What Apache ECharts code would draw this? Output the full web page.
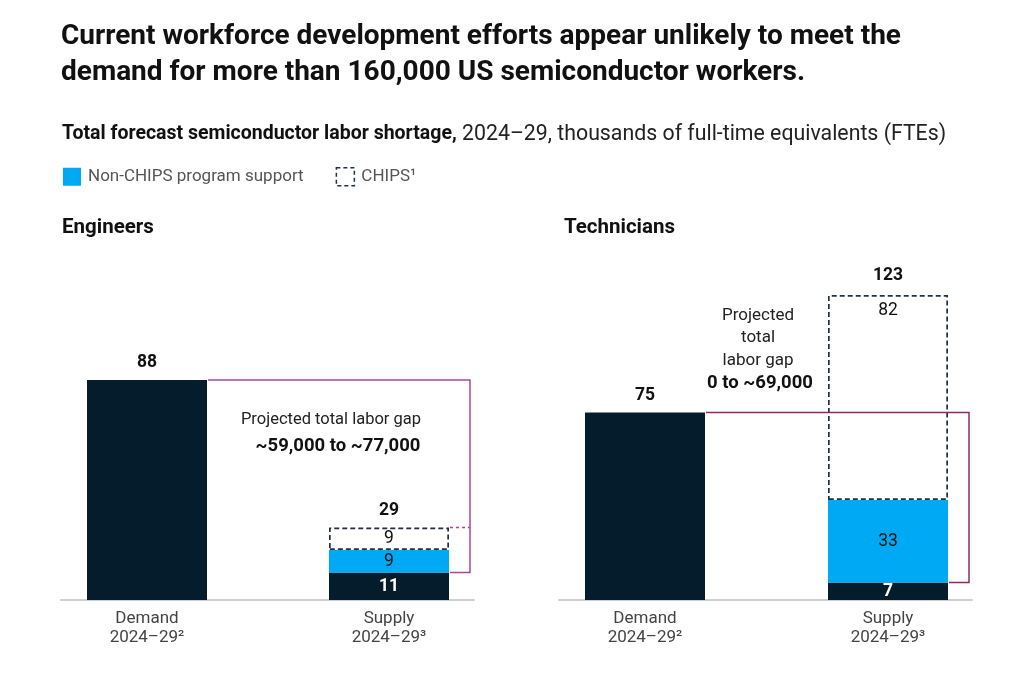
<!DOCTYPE html>
<html><head><meta charset="utf-8">
<script src="https://cdn.jsdelivr.net/npm/echarts@6/dist/echarts.min.js"></script>
<style>html,body{margin:0;padding:0;background:#fff}#c{width:1024px;height:674px}</style>
</head><body><div id="c"></div>
<script>
// ---- data (thousands of FTEs) ----
const categories = ['Demand\n2024–29²', 'Supply\n2024–29³'];
const panelTitles = ['Engineers', 'Technicians'];
const engBase = [88, 11];        // demand, supply base
const engNonChips = [null, 9];
const engChips = [null, 9];
const engTotals = [88, 29];
const techBase = [75, 7];
const techNonChips = [null, 33];
const techChips = [null, 82];
const techTotals = [75, 123];
const gapTexts = [['Projected total labor gap', '~59,000 to ~77,000'], ['Projected\ntotal\nlabor gap', '0 to ~69,000']];

const DARK = '#051c2c', BLUE = '#00a9f4', FONT = 'Roboto', BORDER = '#1f3142';
const panels = [
  {base: engBase, non: engNonChips, chips: engChips, totals: engTotals, left: 26, right: 514, axLeft: 61, axRight: 550, line: '#ad4595'},
  {base: techBase, non: techNonChips, chips: techChips, totals: techTotals, left: 523.5, right: 14.5, axLeft: 559, axRight: 52, line: '#8c2b62'}
];

const grid = [], xAxis = [], yAxis = [], series = [];
const toData = arr => arr.map(v => v == null ? '-' : v);
panels.forEach((p, i) => {
  // bar grid
  grid.push({left: p.left, right: p.right, top: 250, bottom: 74});
  xAxis.push({type: 'category', gridIndex: i, data: categories,
    axisLine: {show: false}, axisTick: {show: false}, splitLine: {show: false},
    axisLabel: {color: '#444', fontFamily: FONT, fontSize: 17, lineHeight: 19, margin: 9}});
  yAxis.push({type: 'value', gridIndex: i, min: 0, max: 140, show: false});
  series.push({type: 'bar', name: 'Base', xAxisIndex: i, yAxisIndex: i, stack: 's' + i, barWidth: 120,
    itemStyle: {color: DARK},
    data: p.base.map((v, k) => ({value: v, label: {show: k === 1}})),
    label: {position: 'inside', color: '#fff', fontWeight: 'bold', fontFamily: FONT, fontSize: 17.5}});
  series.push({type: 'bar', name: 'Non-CHIPS program support', xAxisIndex: i, yAxisIndex: i, stack: 's' + i, barWidth: 120,
    itemStyle: {color: BLUE}, data: toData(p.non),
    label: {show: true, position: 'inside', color: '#111', fontFamily: FONT, fontSize: 17.5}});
  series.push({type: 'bar', name: 'CHIPS¹', xAxisIndex: i, yAxisIndex: i, stack: 's' + i, barWidth: 120, z: 3,
    itemStyle: {color: 'rgba(255,255,255,0)', borderColor: BORDER, borderWidth: 1.7, borderType: [5, 3]},
    data: toData(p.chips),
    label: {show: true, position: i === 1 ? 'insideTop' : 'inside', distance: 7, color: '#111', fontFamily: FONT, fontSize: 17.5}});
  series.push({type: 'custom', xAxisIndex: i, yAxisIndex: i, z: 5, silent: true,
    data: [[0, 1, p.totals[0], p.base[1], p.totals[1]]],
    encode: {x: [0, 1], y: [2, 3, 4]},
    renderItem: (params, api) => {
      const d = api.coord([api.value(0), api.value(2)]);
      const s = api.coord([api.value(1), api.value(3)]);
      const t = api.coord([api.value(1), api.value(4)]);
      const half = 60, rx = s[0] + 81;
      const ch = [
        {type: 'polyline', shape: {points: [[d[0] + half + 1, d[1]], [rx, d[1]], [rx, s[1]], [s[0] + half + 1, s[1]]]},
          style: {stroke: p.line, lineWidth: 1.5, fill: null}},
        {type: 'text', style: {text: String(api.value(2)), x: d[0], y: d[1] - 17, align: 'center', verticalAlign: 'middle',
          font: 'bold 17.5px ' + FONT, fill: '#111'}},
        {type: 'text', style: {text: String(api.value(4)), x: t[0], y: t[1] - 17, align: 'center', verticalAlign: 'middle',
          font: 'bold 17.5px ' + FONT, fill: '#111'}}
      ];
      if (t[1] > d[1]) ch.push({type: 'line', shape: {x1: s[0] + half + 1, y1: t[1], x2: rx, y2: t[1]},
        style: {stroke: p.line, lineWidth: 1.5, lineDash: [3, 3]}});
      return {type: 'group', children: ch};
    }});
});
// baseline axes (shorter than the bar grids)
panels.forEach((p, i) => {
  grid.push({left: p.axLeft, right: p.axRight, top: 250, bottom: 74});
  xAxis.push({type: 'category', gridIndex: 2 + i, data: [], axisLine: {show: true, lineStyle: {color: '#d0d0d0', width: 2}},
    axisTick: {show: false}, axisLabel: {show: false}, splitLine: {show: false}});
  yAxis.push({type: 'value', gridIndex: 2 + i, min: 0, max: 140, show: false});
});

const chart = echarts.init(document.getElementById('c'));
chart.setOption({
  animation: false,
  textStyle: {fontFamily: FONT},
  title: [
    {text: 'Current workforce development efforts appear unlikely to meet the\ndemand for more than 160,000 US semiconductor workers.',
      left: 56, top: 14, textStyle: {fontFamily: FONT, fontSize: 28, fontWeight: 'bold', lineHeight: 36, color: '#111'}},
    {text: '{b|Total forecast semiconductor labor shortage,}{n| 2024–29, thousands of full-time equivalents (FTEs)}',
      left: 57, top: 119, textStyle: {fontFamily: FONT, fontSize: 20, fontWeight: 'normal', color: '#222',
        rich: {b: {fontFamily: FONT, fontSize: 19.5, fontWeight: 'bold', color: '#111'},
               n: {fontFamily: FONT, fontSize: 21.3, fontWeight: 'normal', color: '#222'}}}},
    {text: panelTitles[0], left: 57, top: 212, textStyle: {fontFamily: FONT, fontSize: 20.5, fontWeight: 'bold', color: '#111'}},
    {text: panelTitles[1], left: 559, top: 212, textStyle: {fontFamily: FONT, fontSize: 20.5, fontWeight: 'bold', color: '#111'}}
  ],
  legend: {left: 58, top: 162, itemWidth: 18, itemHeight: 18, itemGap: 32, icon: 'rect',
    data: [{name: 'Non-CHIPS program support'},
           {name: 'CHIPS¹', itemStyle: {color: 'rgba(255,255,255,0)', borderColor: BORDER, borderWidth: 1.5, borderType: [4, 3]}}],
    textStyle: {fontFamily: FONT, fontSize: 17, color: '#555', padding: [0, 0, 0, 2]}},
  graphic: [
    {type: 'text', x: 331, y: 420, style: {text: gapTexts[0][0], font: '16.5px ' + FONT, fill: '#222', align: 'center', verticalAlign: 'middle'}},
    {type: 'text', x: 338, y: 446, style: {text: gapTexts[0][1], font: 'bold 18.5px ' + FONT, fill: '#111', align: 'center', verticalAlign: 'middle'}},
    {type: 'text', x: 758, y: 304, style: {text: gapTexts[1][0], font: '17px ' + FONT, fill: '#222', align: 'center', verticalAlign: 'top', lineHeight: 22.5}},
    {type: 'text', x: 760, y: 383, style: {text: gapTexts[1][1], font: 'bold 18.5px ' + FONT, fill: '#111', align: 'center', verticalAlign: 'middle'}}
  ],
  grid, xAxis, yAxis, series
});
</script></body></html>
